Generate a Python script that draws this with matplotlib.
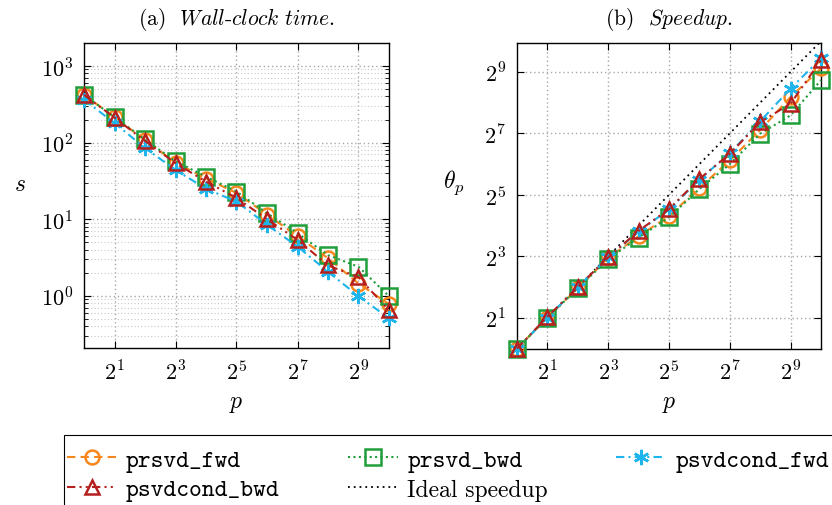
import numpy as np
import matplotlib
matplotlib.use("Agg")
from matplotlib import pyplot as plt
from matplotlib.patches import Rectangle
from matplotlib.ticker import FixedLocator, LogLocator, NullFormatter, NullLocator

plt.rcParams['mathtext.fontset'] = 'cm'
plt.rcParams['font.family'] = ['cmr10', 'DejaVu Serif']
plt.rcParams['axes.unicode_minus'] = False
plt.rcParams['axes.formatter.use_mathtext'] = True

# processes
p = [1, 2, 4, 8, 16, 32, 64, 128, 256, 512, 1024]

# wall-clock time (s)
t_prsvd_fwd = [420, 215, 108, 55, 34, 22, 11.5, 6.0, 3.1, 1.45, 0.78]
t_prsvd_bwd = [420, 215, 110, 57, 36, 23, 12, 6.6, 3.4, 2.4, 0.99]
t_psvdcond_fwd = [363, 180, 85, 44, 25, 17, 8.5, 4.4, 2.07, 0.99, 0.51]
t_psvdcond_bwd = [420, 212, 105, 54, 31, 19, 10, 5.4, 2.5, 1.75, 0.65]

# speedup
s_prsvd_fwd = [1, 2.0, 3.9, 7.7, 12.6, 19.8, 37.5, 69.5, 138, 291, 553]
s_prsvd_bwd = [1, 2.0, 3.9, 7.5, 12.2, 19.2, 36.5, 64, 127, 192, 425]
s_psvdcond_fwd = [1, 2.0, 4.0, 7.8, 14.0, 23.0, 45, 82, 168, 352, 694]
s_psvdcond_bwd = [1, 2.05, 4.0, 7.8, 14.2, 23.2, 45.8, 80.6, 165, 250, 669]

names = ['prsvd_fwd', 'prsvd_bwd', 'psvdcond_fwd', 'psvdcond_bwd']
colors = ['#f7861c', '#1f9e3a', '#1eb4ec', '#b5201e']
markers = ['o', 's', (6, 2, 0), '^']
styles = [(0, (4, 2.5)), (0, (1, 1.6)), (0, (4, 2, 1, 2)), (0, (4, 2, 1, 2, 1, 2))]
msizes = [10, 11, 11, 10]

W, H = 832, 506
fig = plt.figure(figsize=(W / 100, H / 100), dpi=100)
ax1 = fig.add_axes([84 / W, (H - 349) / H, 305 / W, 305 / H])
ax2 = fig.add_axes([517 / W, (H - 349.5) / H, 304 / W, 305.5 / H])

def draw(ax, series):
    hs = []
    for y, n, c, m, ls, ms in zip(series, names, colors, markers, styles, msizes):
        h, = ax.plot(p, y, color=c, ls=ls, lw=1.5, marker=m, ms=ms,
                     mfc='none', mec=c, mew=1.8, label=n, clip_on=False, zorder=3)
        hs.append(h)
    return hs

hs = draw(ax1, [t_prsvd_fwd, t_prsvd_bwd, t_psvdcond_fwd, t_psvdcond_bwd])
draw(ax2, [s_prsvd_fwd, s_prsvd_bwd, s_psvdcond_fwd, s_psvdcond_bwd])
hi, = ax2.plot([1, 1024], [1, 1024], color='black', ls=(0, (1, 2.2)), lw=1.3,
               label='Ideal speedup', zorder=2)

odd = [2, 8, 32, 128, 512]
oddlab = [r'$2^{%d}$' % k for k in (1, 3, 5, 7, 9)]

for ax in (ax1, ax2):
    ax.set_xscale('log', base=2)
    ax.set_xlim(1, 1024)
    ax.xaxis.set_major_locator(FixedLocator(odd))
    ax.xaxis.set_minor_locator(NullLocator())
    ax.set_xticklabels(oddlab)
    ax.tick_params(which='both', direction='in', top=True, right=True,
                   labelsize=16, pad=8)
    ax.tick_params(which='major', length=5, width=0.8)
    ax.tick_params(which='minor', length=3, width=0.6)
    ax.grid(True, which='major', ls=(0, (1, 2)), color='#a8a8a8', lw=1.0)
    ax.set_xlabel(r'$p$', fontsize=17, labelpad=6)
    for s in ax.spines.values():
        s.set_linewidth(1.0)

ax1.set_yscale('log')
ax1.set_ylim(10 ** -0.68, 10 ** 3.3)
ax1.yaxis.set_major_locator(LogLocator(base=10, numticks=10))
ax1.yaxis.set_minor_locator(LogLocator(base=10, subs=np.arange(2, 10), numticks=20))
ax1.yaxis.set_minor_formatter(NullFormatter())
ax1.grid(True, which='minor', axis='y', ls=(0, (1, 2)), color='#c8c8c8', lw=0.8)
ax1.set_ylabel(r'$s$', fontsize=17, rotation=0)
ax1.yaxis.set_label_coords(-0.21, 0.5)

ax2.set_yscale('log', base=2)
ax2.set_ylim(1, 2 ** 9.94)
ax2.yaxis.set_major_locator(FixedLocator(odd))
ax2.yaxis.set_minor_locator(NullLocator())
ax2.set_yticklabels(oddlab)
ax2.set_ylabel(r'$\theta_p$', fontsize=17, rotation=0)
ax2.yaxis.set_label_coords(-0.21, 0.5)

ax1.set_title(r'(a)  $\mathit{Wall}$-$\mathit{clock\ time.}$', fontsize=15.5, pad=14)
ax2.set_title(r'(b)  $\mathit{Speedup.}$', fontsize=15.5, pad=14)

# legend box runs past the right and bottom edges
fig.patches.append(Rectangle((64 / W, -0.1), 1.0, (H - 436) / H + 0.1,
                             transform=fig.transFigure, fill=False,
                             edgecolor='black', lw=0.8))

order = [hs[0], hs[3], hs[1], hi, hs[2]]
leg = fig.legend(handles=order, labels=[h.get_label() for h in order], ncol=3,
                 loc='upper left', bbox_to_anchor=(67 / W, 1 - 450 / H),
                 borderaxespad=0, fontsize=17, handlelength=2.1, handletextpad=0.4,
                 columnspacing=2.9, borderpad=0, labelspacing=0.3, frameon=False)
for t in leg.get_texts():
    if t.get_text() != 'Ideal speedup':
        t.set_fontfamily('cmtt10')
        t.set_fontsize(17.5)

fig.savefig('out.png', dpi=100)
